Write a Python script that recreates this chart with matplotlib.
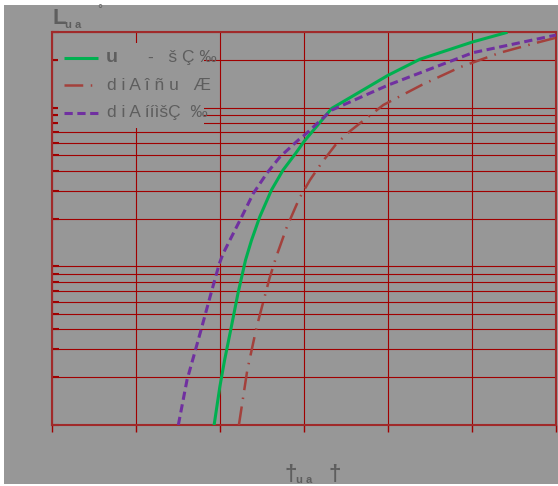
import matplotlib
matplotlib.use("Agg")
import matplotlib.pyplot as plt
from matplotlib.patches import Rectangle
from matplotlib.ticker import LogLocator, NullFormatter, FixedLocator

# curve values (x linear 0..60, y log 1..300)
green_x = [19.3, 19.98, 20.55, 21.35, 22.14, 23.04, 23.75, 24.73, 26.13, 27.5, 29.0, 30.04,
           33.3, 40.0, 43.8, 50.1, 54.05]
green_y = [1.0, 1.74, 2.57, 4.16, 6.76, 10.96, 14.6, 20.5, 30.3, 40.4, 51.5, 61.6,
           99, 160, 202, 260, 297]

brown_x = [22.25, 23.25, 24.37, 25.89, 26.67, 27.94, 29.44, 30.71, 32.11, 33.89, 35.48, 39.44,
           44.0, 48.57, 53.33, 58.1, 60.0]
brown_y = [1.0, 2.22, 4.16, 8.4, 11.4, 17.6, 26.8, 35.0, 45.0, 59.6, 71.2, 104,
           139, 180, 222, 260, 276]

purple_x = [15.04, 16.07, 16.85, 17.74, 18.93, 19.92, 20.39, 21.39, 22.58, 23.96, 25.56, 27.14,
            29.32, 30.04, 33.3, 40.04, 50.08, 60.0]
purple_y = [1.0, 1.92, 2.69, 3.97, 6.76, 10.4, 12.1, 15.4, 20.5, 28.8, 38.5, 49.0,
            62.5, 67, 96.6, 139, 222, 287]

labels = ["u", "d i A î ñ u   Æ", "d i A ííìšÇ  ‰"]
x_ticks = [0, 10, 20, 30, 40, 50, 60]

GRAY = '#979797'
GRID = '#a00000'
TXT = '#5e5e5e'
FONT = ['Liberation Sans', 'DejaVu Sans']

W, H = 558, 486
fig = plt.figure(figsize=(W / 100, H / 100), dpi=100)
fig.patch.set_facecolor('white')
fig.patches.append(Rectangle((4 / W, 2 / H), 554 / W, 479 / H, transform=fig.transFigure,
                             facecolor=GRAY, edgecolor='none', zorder=-10))

ax = fig.add_axes([52 / W, 61 / H, 504 / W, 393 / H])
ax.set_zorder(1)
ax.set_facecolor(GRAY)
ax.set_yscale('log')
ax.set_xlim(0, 60)
ax.set_ylim(1, 300)

ax.xaxis.set_major_locator(FixedLocator(x_ticks))
ax.yaxis.set_major_locator(LogLocator(base=10))
ax.yaxis.set_minor_locator(LogLocator(base=10, subs=range(2, 10)))
ax.yaxis.set_minor_formatter(NullFormatter())
ax.tick_params(axis='y', which='both', direction='in', length=5, width=1.5,
               color=GRID, labelleft=False)
ax.tick_params(axis='x', which='both', direction='out', length=5, width=1,
               color=GRID, labelbottom=False)
ax.grid(True, which='both', color=GRID, lw=0.8)
ax.set_axisbelow(True)
for s in ax.spines.values():
    s.set_color('#a02a2a')
    s.set_linewidth(1.5)

green_style = dict(color='#00b050', lw=2.2, ls='-')
brown_style = dict(color='#a3413c', lw=1.8, ls=(0, (7.5, 3, 0.6, 3)))
purple_style = dict(color='#7030a0', lw=2.2, ls=(0, (2.7, 1.5)))

ax.plot(green_x, green_y, zorder=4, **green_style)
ax.plot(brown_x, brown_y, zorder=4, **brown_style)
ax.plot(purple_x, purple_y, zorder=4, **purple_style)

# legend box drawn by hand (no frame, covers the grid)
ax.add_patch(Rectangle((6 / 504, (425 - 128) / 393), 146 / 504, 85 / 393,
                       transform=ax.transAxes, facecolor=GRAY, edgecolor='none', zorder=2))
rows = [58, 85, 113]
styles = [green_style, brown_style, purple_style]
for py, st in zip(rows, styles):
    yy = (425 - py) / 393
    ax.plot([12 / 504, 46 / 504], [yy, yy], transform=ax.transAxes, zorder=4,
            solid_capstyle='butt', **st)

ax.text(54 / 504, (425 - rows[0]) / 393, labels[0], transform=ax.transAxes, va='center',
        size=14, weight='bold', color=TXT, family=FONT, zorder=5)
ax.text(96 / 504, (425 - rows[0]) / 393, "-   š Ç ‰", transform=ax.transAxes, va='center',
        size=12.5, color=TXT, family=FONT, zorder=5)
ax.text(55 / 504, (425 - rows[1]) / 393, labels[1], transform=ax.transAxes, va='center',
        size=12.5, color=TXT, family=FONT, zorder=5)
ax.text(55 / 504, (425 - rows[2]) / 393, labels[2], transform=ax.transAxes, va='center',
        size=12.5, color=TXT, family=FONT, zorder=5)

# axis titles
fig.text(53 / W, 1 - 24 / H, 'L', size=16, weight='bold', color=TXT, family=FONT, va='baseline')
fig.text(65 / W, 1 - 28 / H, 'u a', size=8, weight='bold', color=TXT, family=FONT, va='baseline')
fig.text(97 / W, 1 - 13 / H, '°', size=9, color=TXT, family=FONT, va='baseline')

fig.text(285 / W, 1 - 480 / H, '†', size=16, weight='bold', color=TXT, family=FONT, va='baseline')
fig.text(296 / W, 1 - 483 / H, 'u a', size=8, weight='bold', color=TXT, family=FONT, va='baseline')
fig.text(328 / W, 1 - 480 / H, '†', size=16, weight='bold', color=TXT, family=FONT, va='baseline')

fig.savefig('out.png', dpi=100, facecolor=fig.get_facecolor())
